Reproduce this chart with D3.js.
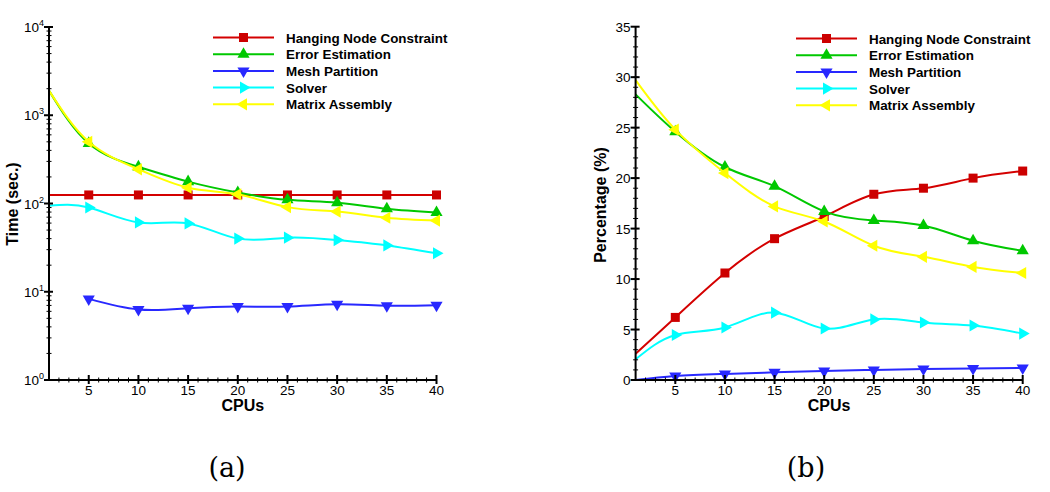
<!DOCTYPE html>
<html>
<head>
<meta charset="utf-8">
<script src="https://cdn.jsdelivr.net/npm/d3@7/dist/d3.min.js"></script>
<style>
  html, body { margin: 0; padding: 0; background: #fff; }
  svg { display: block; font-family: "Liberation Sans", Arial, sans-serif; }
</style>
</head>
<body>
<svg id="chart" width="1050" height="492"></svg>
<script>
// CPU counts (x values)
const cpus = [1, 5, 10, 15, 20, 25, 30, 35, 40];

const seriesNames = ['Hanging Node Constraint', 'Error Estimation', 'Mesh Partition', 'Solver', 'Matrix Assembly'];

// (a) wall time in seconds (log axis); 0 = nothing to plot
const timeHanging = [125, 125, 125, 125, 125, 125, 125, 125, 125];
const timeError   = [1900, 480, 260, 177, 133, 110, 102, 87, 79];
const timeMesh    = [0, 8.3, 6.3, 6.5, 6.8, 6.8, 7.2, 6.95, 7.05];
const timeSolver  = [94, 90, 61, 59.5, 40, 41, 38.5, 33.5, 27.3];
const timeMatrix  = [1900, 500, 244, 151, 127, 91, 81, 69, 64];

// (b) share of total time in percent
const pctHanging = [2.6, 6.2, 10.6, 14.0, 16.2, 18.4, 19.0, 20.0, 20.7];
const pctError   = [28.3, 24.6, 21.1, 19.2, 16.7, 15.8, 15.3, 13.8, 12.8];
const pctMesh    = [0, 0.4, 0.6, 0.76, 0.9, 1.0, 1.08, 1.15, 1.2];
const pctSolver  = [2.05, 4.46, 5.2, 6.67, 5.1, 6.0, 5.7, 5.4, 4.6];
const pctMatrix  = [29.7, 24.8, 20.5, 17.2, 15.7, 13.3, 12.2, 11.2, 10.6];

const xTicks = [5, 10, 15, 20, 25, 30, 35, 40];
const logTicks = [1, 10, 100, 1000, 10000];
const pctTicks = [0, 5, 10, 15, 20, 25, 30, 35];

const colors = ['#d40000', '#00c800', '#2828ff', '#00ffff', '#ffff00'];
const markerFill = ['#cc0000', '#00c800', '#2828ff', '#00ffff', '#ffff00'];
// marker: square, up, down, right, left
const markerRot = [null, 0, 180, 90, -90];

const svg = d3.select('#chart');

function marker(g, i, x, y) {
  if (markerRot[i] === null) {
    g.append('rect')
      .attr('x', x - 4.5).attr('y', y - 4.5)
      .attr('width', 9).attr('height', 9)
      .attr('fill', markerFill[i]);
  } else {
    g.append('path')
      .attr('d', d3.symbol().type(d3.symbolTriangle).size(64)())
      .attr('transform', `translate(${x},${y}) rotate(${markerRot[i]})`)
      .attr('fill', markerFill[i]);
  }
}

function drawPanel(opt) {
  const g = svg.append('g');
  const x = d3.scaleLinear().domain([1, 40]).range(opt.xRange);
  const y = opt.y;
  const [y0] = y.range();
  const x0 = opt.xRange[0];

  // series
  opt.series.forEach((vals, i) => {
    const pts = cpus.map((c, k) => ({ c, v: vals[k] })).filter(d => !opt.log || d.v > 0);
    const line = d3.line()
      .x(d => x(d.c))
      .y(d => y(d.v))
      .curve(d3.curveNatural);
    g.append('path')
      .datum(pts)
      .attr('fill', 'none')
      .attr('stroke', colors[i])
      .attr('stroke-width', 2)
      .attr('d', line);
    pts.filter(d => d.c > 1).forEach(d => marker(g, i, x(d.c), y(d.v)));
  });

  // x axis
  const ax = g.append('g').attr('stroke', '#000');
  ax.append('line').attr('x1', x0 - 1).attr('x2', opt.xRange[1]).attr('y1', y0).attr('y2', y0).attr('stroke-width', 2);
  d3.range(2, 41).forEach(c => {
    const major = c % 5 === 0;
    ax.append('line').attr('x1', x(c)).attr('x2', x(c))
      .attr('y1', y0 - (major ? 5 : 2.5)).attr('y2', y0 + (major ? 4 : 2.5))
      .attr('stroke-width', major ? 2 : 1);
  });
  g.selectAll('.xt').data(xTicks).enter().append('text')
    .attr('x', d => x(d)).attr('y', y0 + 15)
    .attr('text-anchor', 'middle').attr('font-size', 13.5).text(d => d);

  // y axis
  const [yb, yt] = y.range();
  ax.append('line').attr('x1', x0).attr('x2', x0).attr('y1', y0 + 1).attr('y2', yt).attr('stroke-width', 2);
  opt.minor.forEach(v => {
    ax.append('line').attr('x1', x0 - 2.5).attr('x2', x0 + 2.5)
      .attr('y1', y(v)).attr('y2', y(v)).attr('stroke-width', 1);
  });
  opt.major.forEach(v => {
    ax.append('line').attr('x1', x0 - 5).attr('x2', x0 + 4)
      .attr('y1', y(v)).attr('y2', y(v)).attr('stroke-width', 2);
  });
  opt.major.forEach(v => {
    const t = g.append('text')
      .attr('x', x0 - 5).attr('y', y(v) + 5)
      .attr('text-anchor', 'end').attr('font-size', 13.5);
    if (opt.log) {
      t.append('tspan').text('10');
      t.append('tspan').attr('font-size', 9).attr('dy', -6).text(Math.round(Math.log10(v)));
    } else {
      t.text(v);
    }
  });

  // axis titles
  g.append('text')
    .attr('transform', `translate(${opt.yTitleX},${opt.yTitleY}) rotate(-90)`)
    .attr('text-anchor', 'middle').attr('font-size', 16).attr('font-weight', 'bold')
    .text(opt.yTitle);
  g.append('text')
    .attr('x', (opt.xRange[0] + opt.xRange[1]) / 2).attr('y', y0 + 31)
    .attr('text-anchor', 'middle').attr('font-size', 16).attr('font-weight', 'bold')
    .text('CPUs');

  // legend
  const lg = g.append('g');
  seriesNames.forEach((name, i) => {
    const ly = opt.legendY + i * 16.7;
    lg.append('line')
      .attr('x1', opt.legendX).attr('x2', opt.legendX + 61)
      .attr('y1', ly).attr('y2', ly)
      .attr('stroke', colors[i]).attr('stroke-width', 2);
    marker(lg, i, opt.legendX + 30.5, ly);
    lg.append('text')
      .attr('x', opt.legendX + 73).attr('y', ly + 5)
      .attr('font-size', 13.4).attr('font-weight', 'bold')
      .text(name);
  });

  // caption
  svg.append('text')
    .attr('x', opt.captionX).attr('y', 477)
    .attr('text-anchor', 'middle')
    .attr('font-family', '"DejaVu Serif", "Liberation Serif", serif')
    .attr('font-size', 27)
    .text(opt.caption);
}

const logMinor = [];
[1, 10, 100, 1000].forEach(d => d3.range(2, 10).forEach(m => logMinor.push(d * m)));

drawPanel({
  xRange: [49, 436.5],
  y: d3.scaleLog().domain([1, 10000]).range([380, 27]),
  log: true,
  major: logTicks,
  minor: logMinor,
  series: [timeHanging, timeError, timeMesh, timeSolver, timeMatrix],
  yTitle: 'Time (sec.)', yTitleX: 18, yTitleY: 204,
  legendX: 213, legendY: 37.5,
  caption: '(a)', captionX: 227
});

drawPanel({
  xRange: [635.6, 1022.7],
  y: d3.scaleLinear().domain([0, 35]).range([380, 26.7]),
  log: false,
  major: pctTicks,
  minor: d3.range(1, 35),
  series: [pctHanging, pctError, pctMesh, pctSolver, pctMatrix],
  yTitle: 'Percentage (%)', yTitleX: 606, yTitleY: 205,
  legendX: 796, legendY: 38.5,
  caption: '(b)', captionX: 806
});
</script>
</body>
</html>
